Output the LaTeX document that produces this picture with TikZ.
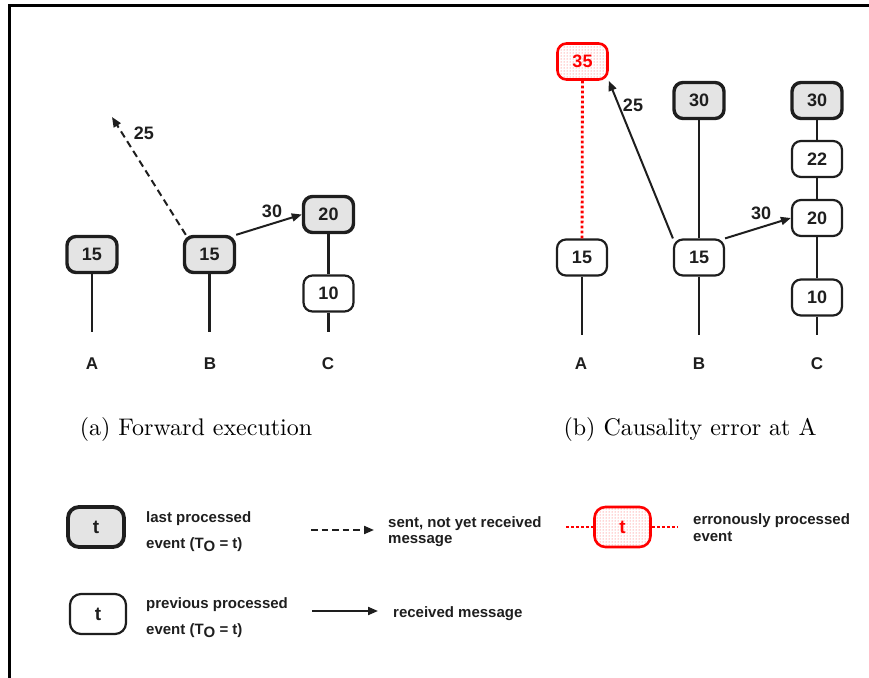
\documentclass[tikz,border=0pt]{standalone}
\usepackage{fontspec}
\newfontfamily\arialf{Liberation Sans}
\usetikzlibrary{arrows.meta,patterns}
\definecolor{ink}{HTML}{1E1E1E}
\definecolor{lgray}{HTML}{E4E4E4}
\definecolor{errred}{HTML}{FF0000}
\begin{document}
\begin{tikzpicture}[x=1pt,y=-1pt,
  ev/.style={draw=ink, rounded corners=9pt, minimum width=50pt, minimum height=36pt, line width=2.2pt, fill=white, text=ink, inner sep=0pt, font=\arialf\bfseries\fontsize{18}{18}\selectfont},
  lastev/.style={ev, fill=lgray, line width=3.4pt},
  errev/.style={ev, draw=errred, text=errred, fill=none, pattern=dots, pattern color=errred!70, line width=2.6pt},
  legbox/.style={minimum width=56pt, minimum height=40pt, rounded corners=11pt, font=\arialf\bfseries\fontsize{19}{19}\selectfont},
  tl/.style={draw=ink, line width=2.4pt},
  msg/.style={draw=ink, line width=2pt, -{Triangle[length=10pt,width=8pt]}},
  pend/.style={msg, dash pattern=on 7pt off 4.5pt},
  errline/.style={draw=errred, line width=2.8pt, dash pattern=on 2.8pt off 2.2pt},
  num/.style={text=ink, inner sep=0pt, font=\arialf\bfseries\fontsize{18}{18}\selectfont},
  proc/.style={text=ink, inner sep=0pt, font=\arialf\bfseries\fontsize{17}{17}\selectfont},
  legtxt/.style={anchor=base west, text=ink, inner sep=0pt, font=\arialf\bfseries\fontsize{15}{15}\selectfont},
  capt/.style={anchor=base, inner sep=0pt, font=\fontsize{10}{12}\selectfont}
]
\useasboundingbox (0,0) rectangle (869,677);
% frame
\draw[line width=2.2pt, black] (872,5.5) -- (9.5,5.5) -- (9.5,680);

% ---------- panel (a)
\node[lastev] (aA) at (92,254.5) {15};
\node[lastev] (aB) at (209.5,254.5) {15};
\node[lastev] (aC20) at (328.5,214.5) {20};
\node[ev] (aC10) at (328.5,293.5) {10};
\coordinate (aAe) at (92,332);
\coordinate (aBe) at (209.5,332);
\coordinate (aCe) at (328.5,332);
\draw[tl] (aA) -- (aAe);
\draw[tl] (aB) -- (aBe);
\draw[tl] (aC20) -- (aC10) -- (aCe);
\coordinate (a25) at (112,117);
\draw[pend] ([xshift=3pt]aB.north west) -- (a25);
\draw[msg] (aB.north east) -- (aC20.west);
\node[num] (la25) at (144,133) {25};
\node[num] (la30) at (272,211) {30};
\node[proc] (paA) at (92,364) {A};
\node[proc] (paB) at (210,364) {B};
\node[proc] (paC) at (328,364) {C};

% ---------- panel (b)
\node[errev] (b35) at (582.5,61.5) {35};
\node[lastev] (bB30) at (699,100.5) {30};
\node[lastev] (bC30) at (817,100.5) {30};
\node[ev] (bC22) at (817,159) {22};
\node[ev] (bC20) at (817,218) {20};
\node[ev] (bC10) at (817,297.5) {10};
\node[ev] (bA) at (582,257.5) {15};
\node[ev] (bB) at (699,257.5) {15};
\coordinate (bAe) at (582,335);
\coordinate (bBe) at (699,335);
\coordinate (bCe) at (817,335);
\draw[tl] (bA) -- (bAe);
\draw[tl] (bB) -- (bBe);
\draw[tl] (bB) -- (bB30);
\draw[tl] (bC30) -- (bC22) -- (bC20) -- (bC10) -- (bCe);
\draw[errline] (bA) -- (b35);
\draw[msg] (bB.north west) -- (b35.south east);
\draw[msg] (bB.north east) -- (bC20.west);
\node[num] (lb25) at (633,105) {25};
\node[num] (lb30) at (761,213) {30};
\node[proc] (pbA) at (581,364) {A};
\node[proc] (pbB) at (699,364) {B};
\node[proc] (pbC) at (817,364) {C};

% ---------- captions
\node[capt] (capa) at (196,435) {\scalebox{2.4}{(a) Forward execution}};
\node[capt] (capb) at (690,435) {\scalebox{2.4}{(b) Causality error at A}};

% ---------- legend
\node[lastev, legbox, line width=3.8pt] (lg1) at (96,527) {t};
\node[ev, legbox] (lg2) at (98,614) {t};
\node[legtxt] (t1a) at (146,522) {last processed};
\node[legtxt] (t1b) at (146,548) {event (T\raisebox{-3.5pt}{O} = t)};
\node[legtxt] (t2a) at (146,608) {previous processed};
\node[legtxt] (t2b) at (146,634) {event (T\raisebox{-3.5pt}{O} = t)};

\coordinate (d1s) at (311,530);
\coordinate (d1e) at (374,530);
\draw[pend, dash pattern=on 6.5pt off 4pt] (d1s) -- (d1e);
\node[legtxt] (t3a) at (388,527) {sent, not yet received};
\node[legtxt] (t3b) at (388,543) {message};

\coordinate (d2s) at (312,611);
\coordinate (d2e) at (378,611);
\draw[msg] (d2s) -- (d2e);
\node[legtxt] (t4) at (393,617) {received message};

\node[errev, legbox] (lg3) at (622.5,527) {t};
\coordinate (e1s) at (566,527);
\coordinate (e1e) at (678,527);
\draw[errline] (e1s) -- (lg3.west);
\draw[errline] (lg3.east) -- (e1e);
\node[legtxt] (t5a) at (693,524) {erronously processed};
\node[legtxt] (t5b) at (693,541) {event};
\end{tikzpicture}
\end{document}
